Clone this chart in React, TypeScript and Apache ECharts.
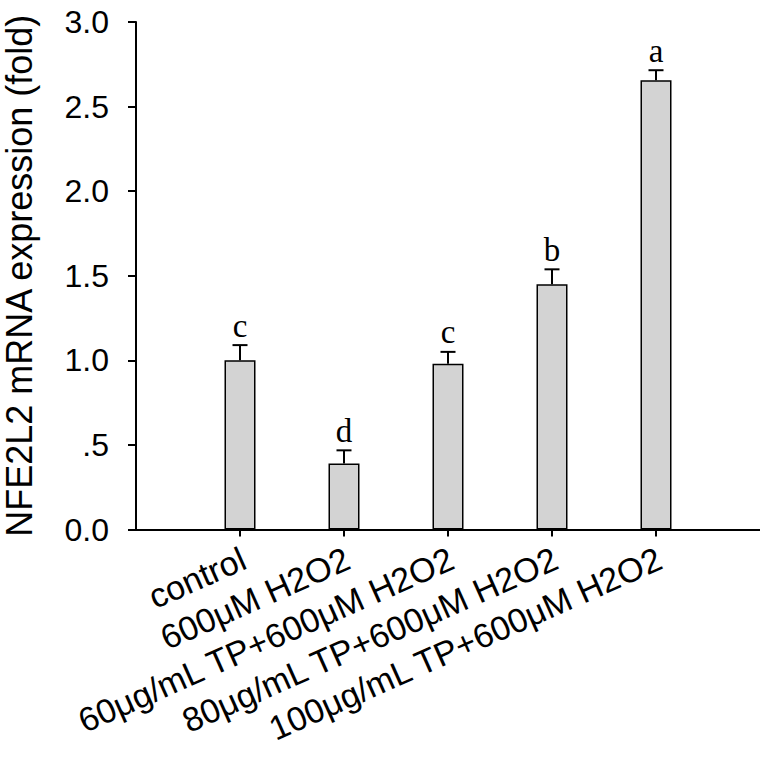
import React, { useEffect, useRef } from "react";
import * as echarts from "echarts";

const categories = [
  "control",
  "600μM H2O2",
  "60μg/mL TP+600μM H2O2",
  "80μg/mL TP+600μM H2O2",
  "100μg/mL TP+600μM H2O2",
];
const values = [1.0, 0.39, 0.98, 1.45, 2.655];
const errors = [0.09, 0.078, 0.07, 0.088, 0.06];
const letters = ["c", "d", "c", "b", "a"];
const yTicks = [0, 0.5, 1.0, 1.5, 2.0, 2.5, 3.0];

export default function App() {
  const ref = useRef<HTMLDivElement>(null);
  useEffect(() => {
    document.body.style.margin = "0";
    if (!ref.current) return;
    const chart = echarts.init(ref.current, null, { renderer: "svg" });
    const axisCats = ["", ...categories, ""];
    const barData: any[] = ["-", ...values, "-"];
    const errData = values.map((v, i) => [i + 1, v, errors[i], i]);
    chart.setOption({
      animation: false,
      backgroundColor: "#fff",
      grid: {
        left: 136,
        top: 22,
        width: 624,
        height: 507.5,
        containLabel: false,
        outerBoundsMode: "none",
      },
      xAxis: {
        type: "category",
        data: axisCats,
        boundaryGap: false,
        axisLine: { lineStyle: { color: "#000", width: 2 } },
        axisTick: {
          show: true,
          length: 7,
          interval: (idx: number) => idx > 0 && idx < axisCats.length - 1,
          lineStyle: { color: "#000", width: 2 },
        },
        axisLabel: {
          interval: 0,
          rotate: 24,
          margin: 29,
          padding: [0, -4, 0, 0],
          color: "#000",
          fontFamily: "Liberation Sans, Arial, sans-serif",
          fontSize: 34,
        },
        splitLine: { show: false },
      },
      yAxis: {
        type: "value",
        min: yTicks[0],
        max: yTicks[yTicks.length - 1],
        interval: 0.5,
        name: "NFE2L2 mRNA expression (fold)",
        nameLocation: "middle",
        nameRotate: 90,
        nameGap: 99,
        nameTextStyle: {
          color: "#000",
          fontFamily: "Liberation Sans, Arial, sans-serif",
          fontSize: 36,
        },
        axisLine: { show: true, lineStyle: { color: "#000", width: 2 } },
        axisTick: { show: true, length: 8, lineStyle: { color: "#000", width: 2 } },
        axisLabel: {
          margin: 27,
          color: "#000",
          fontFamily: "Liberation Sans, Arial, sans-serif",
          fontSize: 32,
          formatter: (v: number) => (v === 0 ? "0.0" : v === 0.5 ? ".5" : v.toFixed(1)),
        },
        splitLine: { show: false },
      },
      series: [
        {
          type: "bar",
          data: barData,
          barWidth: 31,
          itemStyle: { color: "#d3d3d3", borderColor: "#000", borderWidth: 1.5 },
        },
        {
          type: "custom",
          data: errData,
          z: 5,
          renderItem: (params: any, api: any) => {
            const x = api.value(0);
            const v = api.value(1);
            const e = api.value(2);
            const i = api.value(3);
            const base = api.coord([x, v]);
            const top = api.coord([x, v + e]);
            const half = 7.5;
            return {
              type: "group",
              children: [
                {
                  type: "line",
                  shape: { x1: base[0], y1: base[1], x2: top[0], y2: top[1] },
                  style: { stroke: "#000", lineWidth: 2 },
                },
                {
                  type: "line",
                  shape: { x1: top[0] - half, y1: top[1], x2: top[0] + half, y2: top[1] },
                  style: { stroke: "#000", lineWidth: 2 },
                },
                {
                  type: "text",
                  style: {
                    text: letters[i],
                    x: top[0],
                    y: top[1] - 3,
                    align: "center",
                    verticalAlign: "bottom",
                    fontFamily: "Liberation Serif, Times New Roman, serif",
                    fontSize: 33,
                    fill: "#000",
                  },
                },
              ],
            };
          },
        },
      ],
    });
    return () => chart.dispose();
  }, []);
  return <div ref={ref} style={{ width: 760, height: 758 }} />;
}
